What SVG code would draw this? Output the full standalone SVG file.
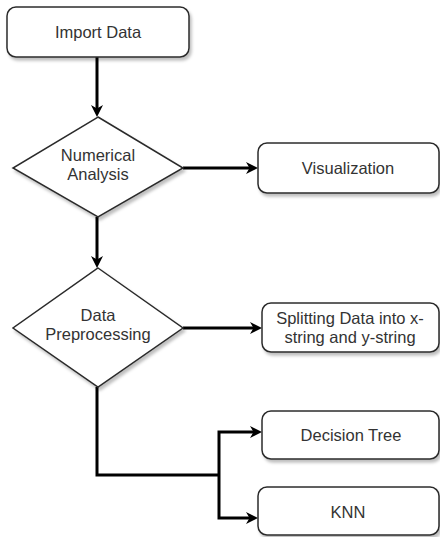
<svg xmlns="http://www.w3.org/2000/svg" width="440" height="537" viewBox="0 0 440 537">
<defs>
<filter id="sh" x="-10%" y="-10%" width="130%" height="140%">
<feDropShadow dx="2" dy="3" stdDeviation="1.6" flood-color="#000" flood-opacity="0.25"/>
</filter>
<marker id="arr" viewBox="0 0 12 12" refX="4" refY="6" markerWidth="12" markerHeight="12" markerUnits="userSpaceOnUse" orient="auto">
<path d="M0,0 L12,6 L0,12 L3.5,6 z" fill="#000"/>
</marker>
<style>
.box{fill:#fff;stroke:#2b2b2b;stroke-width:1.5;filter:url(#sh)}
.t{font-family:"Liberation Sans",Arial,sans-serif;font-size:16.5px;fill:#333;text-anchor:middle}
.c{fill:none;stroke:#000;stroke-width:3}
</style>
</defs>
<g id="connectors">
<path class="c" d="M97,57 V109" marker-end="url(#arr)"/>
<path class="c" d="M183,168 H250" marker-end="url(#arr)"/>
<path class="c" d="M97,217 V260" marker-end="url(#arr)"/>
<path class="c" d="M183,328 H254" marker-end="url(#arr)"/>
<path class="c" d="M97,387 V475 H219"/>
<path class="c" d="M219,475 V432 H254" marker-end="url(#arr)"/>
<path class="c" d="M219,475 V518 H250" marker-end="url(#arr)"/>
</g>
<g id="import-data">
<rect class="box" x="7" y="7" width="182" height="50" rx="9"/>
<text class="t" x="98" y="38">Import Data</text>
</g>
<g id="numerical-analysis">
<polygon class="box" points="98,117 183,168 98,217 13,168"/>
<text class="t" x="98" y="161">Numerical</text>
<text class="t" x="98" y="180">Analysis</text>
</g>
<g id="visualization">
<rect class="box" x="258" y="143" width="181" height="50" rx="9"/>
<text class="t" x="348" y="174">Visualization</text>
</g>
<g id="data-preprocessing">
<polygon class="box" points="98,268 183,328 98,387 13,328"/>
<text class="t" x="98" y="321">Data</text>
<text class="t" x="98" y="340">Preprocessing</text>
</g>
<g id="splitting">
<rect class="box" x="262" y="303" width="177" height="49" rx="9"/>
<text class="t" x="350" y="324">Splitting Data into x-</text>
<text class="t" x="350" y="343">string and y-string</text>
</g>
<g id="decision-tree">
<rect class="box" x="262" y="411" width="177" height="48" rx="9"/>
<text class="t" x="351" y="441">Decision Tree</text>
</g>
<g id="knn">
<rect class="box" x="258" y="487" width="181" height="48" rx="9"/>
<text class="t" x="348" y="518">KNN</text>
</g>
</svg>
